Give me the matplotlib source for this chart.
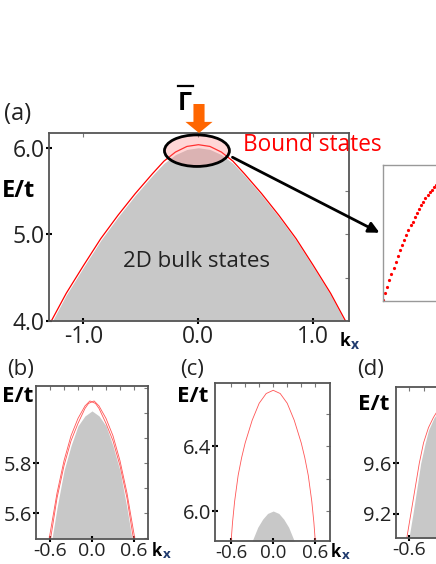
import numpy as np
import matplotlib
matplotlib.use('Agg')
import matplotlib.pyplot as plt
from matplotlib.patches import Ellipse
from matplotlib.lines import Line2D
from matplotlib.ticker import FixedLocator

plt.rcParams['font.family'] = ['Open Sans', 'DejaVu Sans']
plt.rcParams['axes.unicode_minus'] = False

W, H = 436, 564
GRAY = '#c8c8c8'
RED = '#ff0000'

# (a) bulk band edge and bound state
ka_bulk = [-1.27, -1.15, -1.0, -0.85, -0.7, -0.55, -0.4, -0.3, -0.2, -0.1, 0.0,
           0.1, 0.2, 0.3, 0.4, 0.55, 0.7, 0.85, 1.0, 1.15, 1.27]
Ea_bulk = [4.0, 4.3, 4.62, 4.93, 5.2, 5.45, 5.68, 5.82, 5.92, 5.98, 6.0,
           5.98, 5.92, 5.82, 5.68, 5.45, 5.2, 4.93, 4.62, 4.3, 4.0]
ka_bound = [-1.28, -1.15, -1.0, -0.85, -0.7, -0.55, -0.4, -0.3, -0.2, -0.1, 0.0,
            0.1, 0.2, 0.3, 0.4, 0.55, 0.7, 0.85, 1.0, 1.15, 1.28]
Ea_bound = [4.0, 4.32, 4.64, 4.95, 5.22, 5.47, 5.7, 5.845, 5.95, 6.015, 6.035,
            6.015, 5.95, 5.845, 5.7, 5.47, 5.22, 4.95, 4.64, 4.32, 4.0]

# inset: zoom of the bound state near Gamma
k_inset = [-0.300, -0.292, -0.284, -0.276, -0.268, -0.260, -0.252, -0.244, -0.236,
           -0.228, -0.220, -0.212, -0.204, -0.196, -0.188, -0.180, -0.172, -0.164,
           -0.156, -0.148, -0.140, -0.132, -0.124, -0.116, -0.108, -0.100, -0.092]
E_inset = [5.881, 5.890, 5.899, 5.908, 5.916, 5.924, 5.932, 5.939, 5.947,
           5.954, 5.961, 5.967, 5.974, 5.980, 5.985, 5.991, 5.996, 6.002,
           6.007, 6.011, 6.016, 6.020, 6.024, 6.027, 6.031, 6.034, 6.037]

# (b)
kb_bulk = [-0.57, -0.5, -0.4, -0.3, -0.2, -0.1, -0.05, 0.0, 0.05, 0.1, 0.2, 0.3, 0.4, 0.5, 0.57]
Eb_bulk = [5.5, 5.62, 5.77, 5.87, 5.95, 5.99, 6.0, 6.01, 6.0, 5.99, 5.95, 5.87, 5.77, 5.62, 5.5]
kb_red1 = [-0.61, -0.5, -0.4, -0.3, -0.2, -0.1, -0.03, 0.05, 0.1, 0.2, 0.3, 0.4, 0.5, 0.59]
Eb_red1 = [5.5, 5.68, 5.81, 5.91, 5.98, 6.03, 6.05, 6.04, 6.02, 5.96, 5.89, 5.79, 5.66, 5.5]
kb_red2 = [-0.59, -0.5, -0.4, -0.3, -0.2, -0.1, -0.05, 0.03, 0.1, 0.2, 0.3, 0.4, 0.5, 0.61]
Eb_red2 = [5.5, 5.66, 5.79, 5.89, 5.96, 6.02, 6.04, 6.05, 6.03, 5.98, 5.91, 5.81, 5.68, 5.5]

# (c)
kc_bulk = [-0.3, -0.22, -0.15, -0.08, 0.0, 0.08, 0.15, 0.22, 0.3]
Ec_bulk = [5.815, 5.9, 5.95, 5.985, 6.0, 5.985, 5.95, 5.9, 5.815]
kc_red = [-0.6, -0.58, -0.55, -0.5, -0.45, -0.4, -0.3, -0.2, -0.1, 0.0,
          0.1, 0.2, 0.3, 0.4, 0.45, 0.5, 0.55, 0.58, 0.6]
Ec_red = [5.815, 5.93, 6.06, 6.22, 6.33, 6.42, 6.56, 6.665, 6.725, 6.745,
          6.725, 6.665, 6.56, 6.42, 6.33, 6.22, 6.06, 5.93, 5.815]

# (d)
kd_bulk = [-0.61, -0.55, -0.5, -0.44, -0.38, -0.33, -0.25, -0.15, 0.0,
           0.15, 0.25, 0.33, 0.38, 0.44, 0.5, 0.55, 0.61]
Ed_bulk = [9.0, 9.2, 9.38, 9.6, 9.75, 9.86, 9.96, 10.03, 10.06,
           10.03, 9.96, 9.86, 9.75, 9.6, 9.38, 9.2, 9.0]
kd_red = [-0.64, -0.58, -0.52, -0.46, -0.4, -0.33, -0.26, -0.15, 0.0,
          0.15, 0.26, 0.33, 0.4, 0.46, 0.52, 0.58, 0.64]
Ed_red = [9.0, 9.2, 9.4, 9.6, 9.76, 9.88, 9.96, 10.06, 10.1,
          10.06, 9.96, 9.88, 9.76, 9.6, 9.4, 9.2, 9.0]


fig = plt.figure(figsize=(W / 100, H / 100), dpi=100)


def px_axes(x0, y0, x1, y1):
    return fig.add_axes([x0 / W, 1 - y1 / H, (x1 - x0) / W, (y1 - y0) / H])


def ftext(x, y, s, **kw):
    fig.text(x / W, 1 - y / H, s, **kw)


def style(ax, xmaj, ymaj, xmin, ymin, size, xsize=None):
    for sp in ax.spines.values():
        sp.set_color('#555555')
        sp.set_linewidth(1.3)
    ax.xaxis.set_major_locator(FixedLocator(xmaj))
    ax.yaxis.set_major_locator(FixedLocator(ymaj))
    ax.xaxis.set_minor_locator(FixedLocator(xmin))
    ax.yaxis.set_minor_locator(FixedLocator(ymin))
    ax.xaxis.remove_overlapping_locs = False
    ax.yaxis.remove_overlapping_locs = False
    ax.xaxis.set_major_formatter('{x:.1f}')
    ax.yaxis.set_major_formatter('{x:.1f}')
    ax.tick_params(which='major', direction='inout', length=5, width=1.5, color='black',
                   top=False, right=False, labelsize=size, pad=0.5, labelcolor='#222222')
    if xsize:
        ax.tick_params(axis='x', which='major', labelsize=xsize, pad=0)
    ax.tick_params(which='minor', direction='in', length=3, width=0.8, color='#777777',
                   bottom=False, left=False, top=True, right=True)


def kx_label(x, y, size):
    # bold k with a small dark-blue subscript x
    ftext(x, y, 'k', fontsize=size, fontweight='bold', va='center', ha='left')
    ftext(x + 0.88 * size, y + 0.3 * size, 'x', fontsize=size * 0.8, fontweight='bold',
          color='#1f3a6e', va='center', ha='left')


# ---- panel (a)
ax = px_axes(49, 133, 349, 321)
ax.fill_between(ka_bulk, 4.0, Ea_bulk, color=GRAY, lw=0, zorder=1)
ax.plot(ka_bound, Ea_bound, color=RED, lw=0.9, zorder=2)
ax.set_xlim(-1.3, 1.31)
ax.set_ylim(4.0, 6.17)
style(ax, [-1.0, 0.0, 1.0], [4.0, 5.0, 6.0], [-1.0, 0.0, 1.0], [4.5, 5.0, 5.5, 6.0], 16.5)
ax.text(-0.02, 4.69, '2D bulk states', fontsize=16, color='#222222', ha='center', va='center')
ax.add_patch(Ellipse((-0.013, 5.966), 0.565, 0.364, facecolor=(1, 0.55, 0.55, 0.35),
                     edgecolor='black', lw=2, zorder=5, clip_on=False))
ax.annotate('', xy=(199, H - 133), xycoords='figure pixels',
            xytext=(199, H - 104), textcoords='figure pixels',
            arrowprops=dict(facecolor='#ff6600', edgecolor='none', width=8, headwidth=19.5,
                            headlength=8, shrink=0))
ax.annotate('', xy=(382, H - 234), xycoords='figure pixels',
            xytext=(230, H - 156), textcoords='figure pixels',
            arrowprops=dict(arrowstyle='-|>', color='black', lw=2, mutation_scale=16))
ftext(243, 145, 'Bound states', fontsize=16.3, color=RED, va='center', ha='left')
ftext(185, 104, '\u0393', fontsize=18, fontweight='bold', va='center', ha='center')
fig.add_artist(Line2D([178 / W, 193 / W], [1 - 86 / H, 1 - 86 / H], color='black', lw=1.6))
ftext(4, 114, '(a)', fontsize=17, va='center', ha='left', color='#222222')
ftext(2, 191, 'E/t', fontsize=17, fontweight='bold', va='center', ha='left')
kx_label(340, 341, 12.5)

# inset
axi = px_axes(383, 165, 542, 301)
axi.plot(k_inset, E_inset, ls='none', marker='o', ms=2.3, color=RED, mec='none')
axi.set_xlim(-0.3, 0.3)
axi.set_ylim(5.88, 6.06)
axi.set_xticks([])
axi.set_yticks([])
for sp in axi.spines.values():
    sp.set_color('#999999')
    sp.set_linewidth(1.0)

# ---- panel (b)
ax = px_axes(36, 386, 148, 539)
ax.fill_between(kb_bulk, 5.5, Eb_bulk, color=GRAY, lw=0, zorder=1)
ax.plot(kb_red1, Eb_red1, color='#ff5555', lw=0.6, zorder=2)
ax.plot(kb_red2, Eb_red2, color='#ff5555', lw=0.6, zorder=2)
ax.set_xlim(-0.8, 0.8)
ax.set_ylim(5.496, 6.11)
style(ax, [-0.6, 0.0, 0.6], [5.6, 5.8], np.arange(-0.6, 0.61, 0.2), np.arange(5.5, 6.11, 0.1), 14.5, 14)
ftext(7, 370, '(b)', fontsize=16, va='center', ha='left', color='#222222')
ftext(2, 397, 'E/t', fontsize=16, fontweight='bold', va='center', ha='left')
kx_label(152, 551, 12)

# ---- panel (c)
ax = px_axes(215, 383, 330, 541)
ax.fill_between(kc_bulk, 5.815, Ec_bulk, color=GRAY, lw=0, zorder=1)
ax.plot(kc_red, Ec_red, color='#ff5555', lw=0.6, zorder=2)
ax.set_xlim(-0.83, 0.81)
ax.set_ylim(5.815, 6.79)
style(ax, [-0.6, 0.0, 0.6], [6.0, 6.4], np.arange(-0.6, 0.61, 0.2), np.arange(6.0, 6.79, 0.2), 14.5, 13.5)
ftext(180, 370, '(c)', fontsize=16, va='center', ha='left', color='#222222')
ftext(177, 396, 'E/t', fontsize=16, fontweight='bold', va='center', ha='left')
kx_label(331, 552, 12)

# ---- panel (d)
ax = px_axes(396, 387, 509, 538)
ax.fill_between(kd_bulk, 9.0, Ed_bulk, color=GRAY, lw=0, zorder=1)
ax.plot(kd_red, Ed_red, color='#ff5555', lw=0.6, zorder=2)
ax.set_xlim(-0.79, 0.81)
ax.set_ylim(9.01, 10.2)
style(ax, [-0.6, 0.0, 0.6], [9.2, 9.6], np.arange(-0.6, 0.61, 0.2), np.arange(9.2, 10.2, 0.2), 14.5, 14)
ftext(357, 370, '(d)', fontsize=16, va='center', ha='left', color='#222222')
ftext(358, 404, 'E/t', fontsize=16, fontweight='bold', va='center', ha='left')

fig.savefig('out.png', dpi=100)
